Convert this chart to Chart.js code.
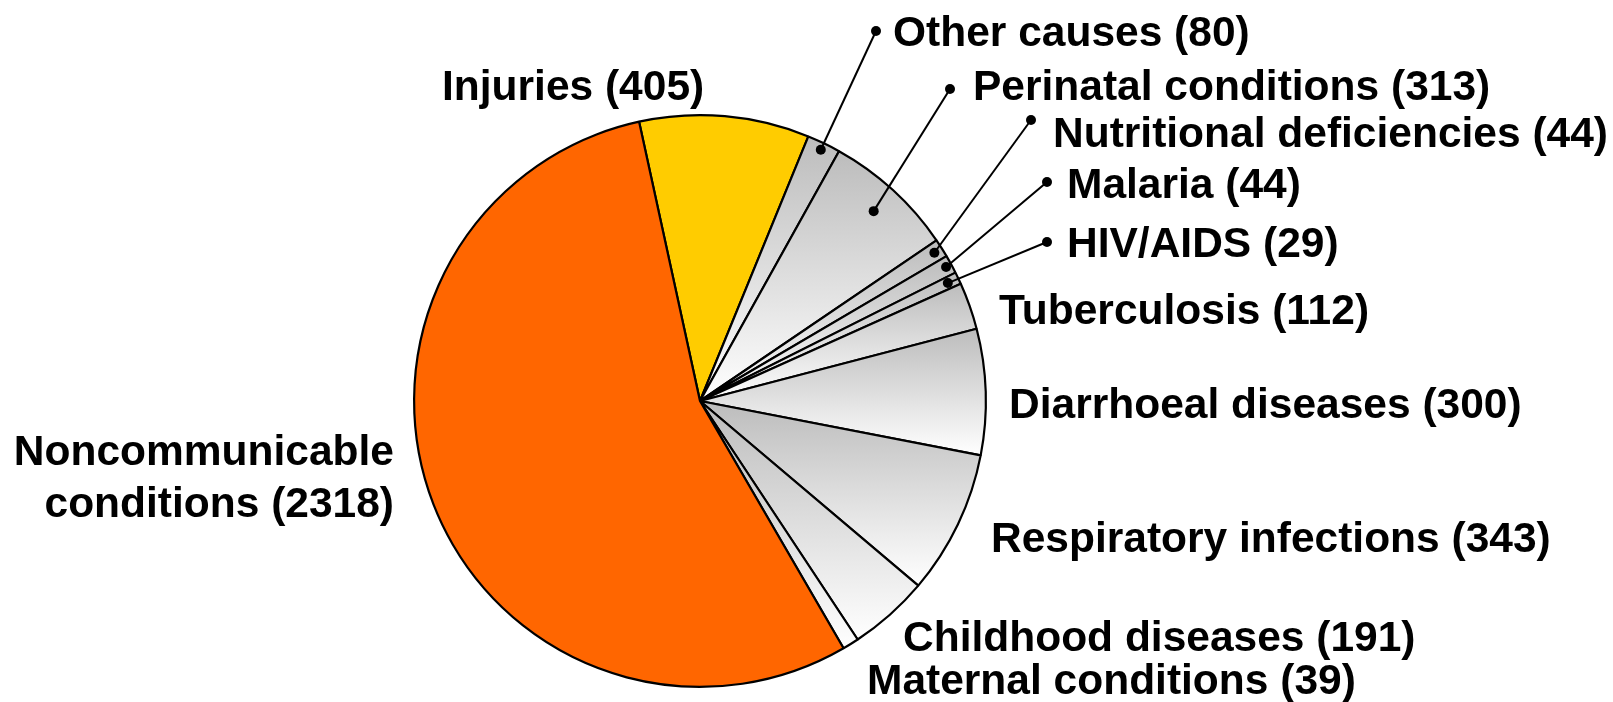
<!DOCTYPE html>
<html>
<head>
<meta charset="utf-8">
<title>Deaths by cause</title>
<script src="https://cdn.jsdelivr.net/npm/chart.js@4.4.0/dist/chart.umd.min.js"></script>
<style>
  html, body { margin: 0; padding: 0; background: #fff; }
  #wrap { width: 1613px; height: 702px; }
</style>
</head>
<body>
<div id="wrap"><canvas id="pie"></canvas></div>
<script>
// Chart data - clockwise from the top, starting with Injuries
const causes = [
  'Injuries', 'Other causes', 'Perinatal conditions', 'Nutritional deficiencies',
  'Malaria', 'HIV/AIDS', 'Tuberculosis', 'Diarrhoeal diseases',
  'Respiratory infections', 'Childhood diseases', 'Maternal conditions',
  'Noncommunicable conditions'
];
const deaths = [405, 80, 313, 44, 44, 29, 112, 300, 343, 191, 39, 2318];

// Where each label sits, relative to the pie centre (px).
// dot = outer end of the leader line, reach = inner end as a share of the radius
const labelLayout = [
  { x: -258, y: -313 },
  { x: 193, y: -367, dot: [176, -370], reach: 0.975 },
  { x: 273, y: -313, dot: [250, -312], reach: 0.9 },
  { x: 353, y: -266, dot: [331, -281], reach: 0.97 },
  { x: 367, y: -215, dot: [347, -219], reach: 0.98 },
  { x: 367, y: -156, dot: [347, -159], reach: 0.96 },
  { x: 299, y: -89 },
  { x: 309, y: 5 },
  { x: 291, y: 139 },
  { x: 203, y: 238 },
  { x: 167, y: 281 },
  { x: -306, y: 52, align: 'right', split: true }
];

const ROTATION = -12.3;
const LABEL_FONT = 'bold 42.5px "Liberation Sans", Arial, sans-serif';

// Vertical grey-to-white gradient over the bounding box of a slice
function sliceFill(context) {
  const i = context.dataIndex;
  if (i === 0) return '#FFCC00';
  if (i === deaths.length - 1) return '#FF6600';

  const chart = context.chart;
  const area = chart.chartArea;
  if (!area) return '#dddddd';

  const cx = (area.left + area.right) / 2;
  const cy = (area.top + area.bottom) / 2;
  const r = Math.min(area.width, area.height) / 2;
  const total = deaths.reduce((a, b) => a + b, 0);
  const before = deaths.slice(0, i).reduce((a, b) => a + b, 0);
  const a0 = ROTATION + 360 * before / total;
  const a1 = a0 + 360 * deaths[i] / total;

  const ys = [cy];
  [a0, a1].forEach(a => ys.push(cy - r * Math.cos(a * Math.PI / 180)));
  for (let k = -360; k <= 720; k += 180) {
    if (k >= a0 && k <= a1) ys.push(cy - r * Math.cos(k * Math.PI / 180));
  }
  const top = Math.min(...ys);
  const bottom = Math.max(...ys);

  const grad = chart.ctx.createLinearGradient(0, top, 0, bottom);
  grad.addColorStop(0, '#bcbcbc');
  grad.addColorStop(1, '#ffffff');
  return grad;
}

// Draw the slice labels and leader lines
const labelPlugin = {
  id: 'sliceLabels',
  afterDraw(chart) {
    const ctx = chart.ctx;
    const arcs = chart.getDatasetMeta(0).data;
    const cx = arcs[0].x;
    const cy = arcs[0].y;
    const r = arcs[0].outerRadius;

    ctx.save();
    ctx.font = LABEL_FONT;
    ctx.fillStyle = '#000';
    ctx.strokeStyle = '#000';
    ctx.textBaseline = 'middle';

    causes.forEach((name, i) => {
      const lay = labelLayout[i];
      const text = name + ' (' + deaths[i] + ')';
      ctx.textAlign = lay.align || 'left';

      if (lay.split) {
        const cut = text.indexOf(' ');
        ctx.fillText(text.slice(0, cut), cx + lay.x, cy + lay.y);
        ctx.fillText(text.slice(cut + 1), cx + lay.x, cy + lay.y + 52);
      } else {
        ctx.fillText(text, cx + lay.x, cy + lay.y);
      }

      if (lay.dot) {
        const arc = arcs[i];
        const mid = (arc.startAngle + arc.endAngle) / 2;
        const ix = cx + Math.cos(mid) * r * lay.reach;
        const iy = cy + Math.sin(mid) * r * lay.reach;
        const ox = cx + lay.dot[0];
        const oy = cy + lay.dot[1];

        ctx.lineWidth = 2;
        ctx.beginPath();
        ctx.moveTo(ox, oy);
        ctx.lineTo(ix, iy);
        ctx.stroke();

        [[ox, oy], [ix, iy]].forEach(p => {
          ctx.beginPath();
          ctx.arc(p[0], p[1], 5, 0, Math.PI * 2);
          ctx.fill();
        });
      }
    });
    ctx.restore();
  }
};

new Chart(document.getElementById('pie').getContext('2d'), {
  type: 'pie',
  data: {
    labels: causes,
    datasets: [{
      data: deaths,
      backgroundColor: sliceFill,
      borderColor: '#000000',
      borderWidth: 2.2
    }]
  },
  options: {
    responsive: true,
    maintainAspectRatio: false,
    animation: false,
    rotation: ROTATION,
    layout: {
      padding: { left: 413, right: 626, top: 114, bottom: 14 }
    },
    plugins: {
      legend: { display: false },
      tooltip: { enabled: false }
    }
  },
  plugins: [labelPlugin]
});
</script>
</body>
</html>
